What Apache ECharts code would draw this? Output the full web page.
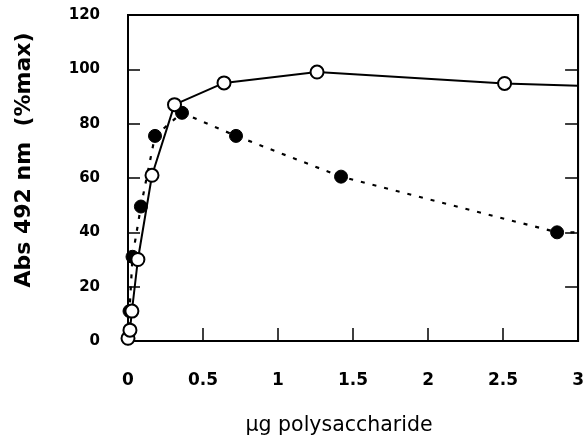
<!DOCTYPE html>
<html>
<head>
<meta charset="utf-8">
<script src="https://cdn.jsdelivr.net/npm/echarts@6/dist/echarts.min.js"></script>
<style>
  html, body { margin: 0; padding: 0; background: #fff; }
  #chart { width: 587px; height: 441px; }
</style>
</head>
<body>
<div id="chart"></div>
<script>
// open circles, solid line
const openX = [0.0, 0.013, 0.026, 0.066, 0.16, 0.31, 0.64, 1.26, 2.51, 3.0]
const openY = [1, 4, 11, 30, 61, 87, 95, 99, 94.8, 94]
// filled circles, dotted line
const filledX = [0.0, 0.01, 0.03, 0.086, 0.18, 0.36, 0.72, 1.42, 2.86, 3.0]
const filledY = [1, 11, 31, 49.5, 75.5, 84, 75.5, 60.5, 40, 40]

const xTicks = [0, 0.5, 1, 1.5, 2, 2.5, 3]
const yTicks = [0, 20, 40, 60, 80, 100, 120]

const font = 'DejaVu Sans, sans-serif'

// last point of each curve is just where the line meets the frame, no marker
const pts = (xs, ys) => xs.map((x, i) => (
  i === xs.length - 1 ? { value: [x, ys[i]], symbol: 'none' } : [x, ys[i]]
))

const chart = echarts.init(document.getElementById('chart'))

chart.setOption({
  animation: false,
  grid: { left: 128, right: 4, top: 15, bottom: 98, show: true, borderColor: '#000', borderWidth: 2 },
  xAxis: {
    type: 'value', min: 0, max: 3, interval: 0.5,
    axisLine: { lineStyle: { color: '#000', width: 2 } },
    axisTick: { inside: true, length: 13, lineStyle: { color: '#000', width: 1.5 } },
    splitLine: { show: false },
    axisLabel: {
      margin: 31, color: '#000', fontFamily: font, fontSize: 17, fontWeight: 'bold',
      formatter: v => xTicks.includes(v) ? String(v) : ''
    },
    name: 'µg polysaccharide', nameLocation: 'middle', nameGap: 74,
    nameTextStyle: { color: '#000', fontFamily: font, fontSize: 20.5, padding: [0, 28, 0, 0] }
  },
  yAxis: [{
    type: 'value', min: 0, max: 120, interval: 20,
    axisLine: { lineStyle: { color: '#000', width: 2 } },
    axisTick: { inside: true, length: 12, lineStyle: { color: '#000', width: 1.5 } },
    splitLine: { show: false },
    axisLabel: {
      margin: 28, color: '#000', fontFamily: font, fontSize: 15, fontWeight: 'bold',
      formatter: v => yTicks.includes(v) ? String(v) : ''
    },
    name: 'Abs 492 nm  (%max)', nameLocation: 'middle', nameGap: 93,
    nameTextStyle: { color: '#000', fontFamily: font, fontSize: 22, fontWeight: 'bold', padding: [0, 0, 0, 36] }
  }, {
    type: 'value', min: 0, max: 120, interval: 20, position: 'right',
    axisLine: { lineStyle: { color: '#000', width: 2 } },
    axisTick: { inside: true, length: 13, lineStyle: { color: '#000', width: 1.5 } },
    axisLabel: { show: false },
    splitLine: { show: false }
  }],
  series: [
    {
      type: 'line', data: pts(filledX, filledY),
      symbol: 'circle', symbolSize: 13, showSymbol: true,
      itemStyle: { color: '#000', borderColor: '#000' },
      lineStyle: { color: '#000', width: 2.2, type: [4, 8] },
      z: 2
    },
    {
      type: 'line', data: pts(openX, openY),
      symbol: 'circle', symbolSize: 13,
      itemStyle: { color: '#fff', borderColor: '#000', borderWidth: 2 },
      lineStyle: { color: '#000', width: 2 },
      z: 3
    }
  ]
})
</script>
</body>
</html>
